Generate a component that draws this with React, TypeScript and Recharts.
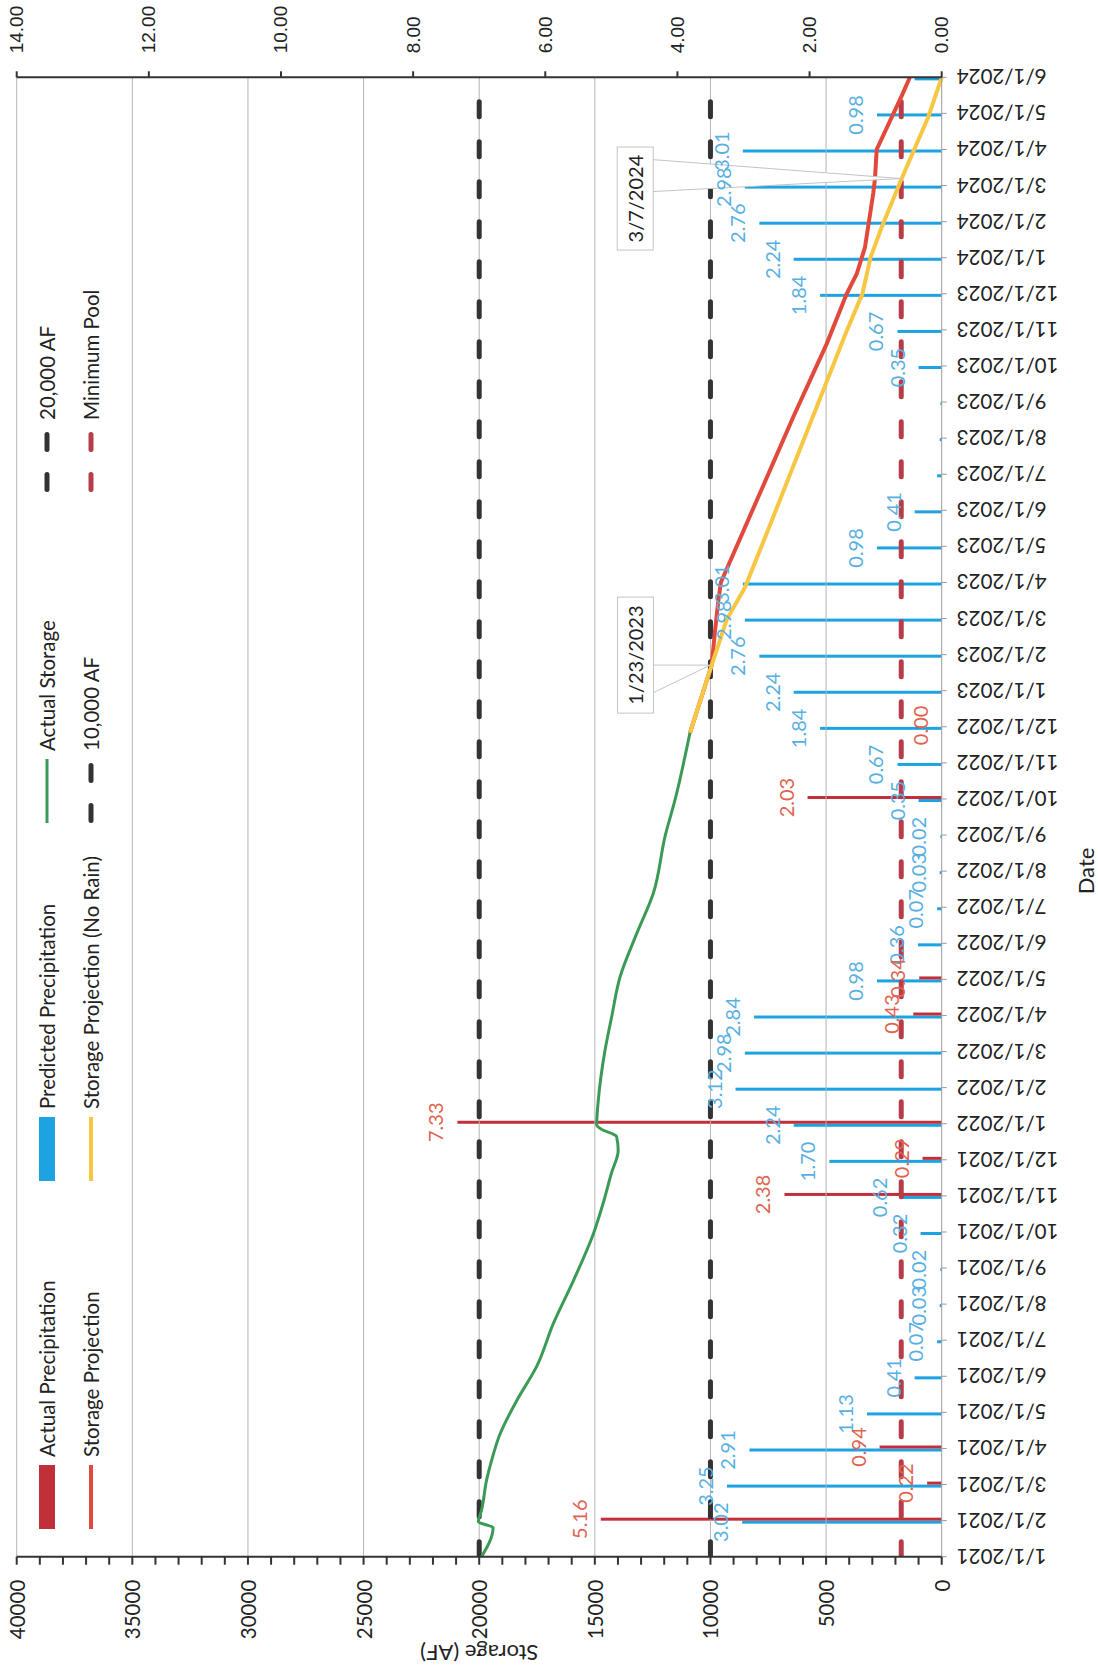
import React from 'react'
import { ComposedChart, Bar, Line, XAxis, YAxis, ReferenceLine, ReferenceDot, Legend, LabelList } from 'recharts'

// monthly categories (1st of each month)
const months = [
  '1/1/2021', '2/1/2021', '3/1/2021', '4/1/2021', '5/1/2021', '6/1/2021',
  '7/1/2021', '8/1/2021', '9/1/2021', '10/1/2021', '11/1/2021', '12/1/2021',
  '1/1/2022', '2/1/2022', '3/1/2022', '4/1/2022', '5/1/2022', '6/1/2022',
  '7/1/2022', '8/1/2022', '9/1/2022', '10/1/2022', '11/1/2022', '12/1/2022',
  '1/1/2023', '2/1/2023', '3/1/2023', '4/1/2023', '5/1/2023', '6/1/2023',
  '7/1/2023', '8/1/2023', '9/1/2023', '10/1/2023', '11/1/2023', '12/1/2023',
  '1/1/2024', '2/1/2024', '3/1/2024', '4/1/2024', '5/1/2024', '6/1/2024',
]

// precipitation (in)
const actualPrecip = [
  null, 5.16, 0.22, 0.94, null, null, null, null, null, null, 2.38, 0.29,
  7.33, null, null, 0.43, 0.34, null, null, null, null, 2.03, null, 0.0,
  null, null, null, null, null, null, null, null, null, null, null, null,
  null, null, null, null, null, null,
]
const predictedPrecip = [
  null, 3.02, 3.25, 2.91, 1.13, 0.41, 0.07, 0.03, 0.02, 0.32, 0.62, 1.7,
  2.24, 3.12, 2.98, 2.84, 0.98, 0.36, 0.07, 0.03, 0.02, 0.35, 0.67, 1.84,
  2.24, 2.76, 2.98, 3.01, 0.98, 0.41, 0.07, 0.03, 0.02, 0.35, 0.67, 1.84,
  2.24, 2.76, 2.98, 3.01, 0.98, 0.41,
]
// months whose predicted label is not shown in the original
const unlabelledPredicted = [30, 31, 32, 41]

// storage (AF)
const actualStorage: [string, number][] = [
  ['1/1/2021', 19900], ['1/26/2021', 19400], ['1/31/2021', 20040], ['2/9/2021', 19900],
  ['3/5/2021', 19680], ['3/22/2021', 19460], ['4/13/2021', 19100], ['5/11/2021', 18380],
  ['6/9/2021', 17520], ['7/15/2021', 16800], ['8/21/2021', 15930], ['9/29/2021', 15070],
  ['10/25/2021', 14650], ['11/20/2021', 14280], ['12/9/2021', 13990],
  ['12/21/2021', 14060], ['12/23/2021', 14200], ['12/27/2021', 14700], ['12/31/2021', 14920],
  ['1/21/2022', 14850], ['3/2/2022', 14560], ['3/31/2022', 14270], ['5/3/2022', 13910],
  ['6/9/2022', 13190], ['7/13/2022', 12470], ['9/1/2022', 11950], ['9/30/2022', 11535],
  ['11/26/2022', 10886],
]
const storageProjection: [string, number][] = [
  ['11/26/2022', 10886], ['1/23/2023', 9945], ['2/19/2023', 9805], ['3/16/2023', 9660],
  ['4/1/2023', 9550], ['8/20/2023', 6400], ['10/20/2023', 4974], ['12/1/2023', 4109],
  ['12/18/2023', 3676], ['1/10/2024', 3317], ['2/24/2024', 2958], ['3/7/2024', 2885],
  ['4/1/2024', 2811], ['5/16/2024', 1730], ['6/1/2024', 1375],
]
const noRainProjection: [string, number][] = [
  ['11/26/2022', 10886], ['1/23/2023', 9945], ['2/28/2023', 9300], ['3/28/2023', 8500],
  ['5/12/2023', 7570], ['9/2/2023', 5300], ['10/31/2023', 4110], ['12/1/2023', 3430],
  ['1/1/2024', 3080], ['1/27/2024', 2600], ['3/7/2024', 1730], ['4/28/2024', 580],
  ['6/1/2024', 0],
]

const level20k = 20000
const level10k = 10000
const minimumPool = 1750

const storageTicks = Array.from({ length: 41 }, (_, i) => i * 1000)
const storageGrid = [5000, 10000, 15000, 20000, 25000, 30000, 35000, 40000]
const precipTicks = [0, 2, 4, 6, 8, 10, 12, 14]
const monthTicks = months.map((_, i) => i)

const W = 1677
const H = 1098
const BAR_W = 3
const FONT = 'Lato, "Open Sans", sans-serif'

const GREEN = '#3b9b56'
const PROJ_RED = '#e0493b'
const PROJ_YELLOW = '#f7c744'
const BAR_BLUE = '#1ea3e2'
const BAR_RED = '#c1303a'
const LABEL_BLUE = '#58b0e2'
const LABEL_RED = '#e0634f'
const POOL_RED = '#b63c47'
const LEVEL_BLACK = '#333333'
const GRID = '#b4b4b4'

// date string -> month index (fractional inside the month)
const toX = (d: string) => {
  const [m, day, y] = d.split('/').map(Number)
  const dim = new Date(y, m, 0).getDate()
  return (y - 2021) * 12 + (m - 1) + (day - 1) / dim
}

const monthRows = months.map((_, i) => ({
  x: i,
  actual: actualPrecip[i],
  predicted: predictedPrecip[i],
  predictedLabel: unlabelledPredicted.includes(i) ? null : predictedPrecip[i],
}))
const toPoints = (arr: [string, number][]) => arr.map(([d, v]) => ({ x: toX(d), v }))
const flat = (v: number) => [{ x: 0, v }, { x: months.length - 1, v }]

// the line data crowd the number axis, so the bars get a fixed width here
const barShape = (color: string, side: 'left' | 'right') => (p: any) => {
  if (p.x == null || p.y == null) return <g />
  const bx = side === 'left' ? p.x + p.width - BAR_W : p.x
  return <rect x={bx} y={p.y} width={BAR_W} height={Math.max(Number(p.height) || 0, 0)} fill={color} />
}

const barLabel = (color: string, side: 'left' | 'right') => (props: any) => {
  const { x, y, width, value } = props
  if (value == null || x == null) return null
  const cx = side === 'left' ? Number(x) + Number(width) - BAR_W / 2 : Number(x) + BAR_W / 2
  return (
    <text x={cx} y={Number(y) - 14} textAnchor="middle" fill={color} fontSize={20} fontFamily={FONT}>
      {Number(value).toFixed(2)}
    </text>
  )
}

const DateTick = ({ x, y, payload }: any) => (
  <text x={x} y={y} transform={`rotate(-90, ${x}, ${y})`} textAnchor="end"
    dominantBaseline="central" fontSize={20.5} fontFamily={FONT} fill="#222">
    {months[payload.value]}
  </text>
)

const StorageTick = ({ x, y, payload }: any) =>
  payload.value % 5000 !== 0 ? null : (
    <text x={x} y={y} textAnchor="end" dominantBaseline="central" fontSize={20.5} fontFamily={FONT} fill="#222">
      {payload.value}
    </text>
  )

const PrecipTick = ({ x, y, payload }: any) => (
  <text x={x} y={y} textAnchor="start" dominantBaseline="central" fontSize={19}
    fontFamily='"Liberation Sans", Arial, sans-serif' fill="#222">
    {Number(payload.value).toFixed(2)}
  </text>
)

const Callout = ({ cx, cy, text, dx, dy, w, a, b }: any) => {
  const bx = cx + dx
  const by = cy + dy
  return (
    <g>
      <polygon points={`${cx + a},${by + 17} ${cx},${cy} ${cx + b},${by + 17}`} fill="#fff" stroke="#c4c4c4" />
      <rect x={bx - w / 2} y={by - 18} width={w} height={36} fill="#fff" stroke="#c4c4c4" />
      <text x={bx} y={by} textAnchor="middle" dominantBaseline="central" fontSize={20} fontFamily={FONT} fill="#222">
        {text}
      </text>
    </g>
  )
}

const legendCols = [148, 496, 854, 1185]
const legendRows = [47, 91]
const legendEntries = [
  { name: 'Actual Precipitation', kind: 'bar', color: BAR_RED },
  { name: 'Predicted Precipitation', kind: 'bar', color: BAR_BLUE },
  { name: 'Actual Storage', kind: 'line', color: GREEN },
  { name: '20,000 AF', kind: 'dash', color: LEVEL_BLACK },
  { name: 'Storage Projection', kind: 'line', color: PROJ_RED },
  { name: 'Storage Projection (No Rain)', kind: 'line', color: PROJ_YELLOW },
  { name: '10,000 AF', kind: 'dash', color: LEVEL_BLACK },
  { name: 'Minimum Pool', kind: 'dash', color: POOL_RED },
]

const ChartLegend = () => (
  <div style={{ position: 'relative', width: W, height: 120 }}>
    {legendEntries.map((e, i) => (
      <div key={e.name} style={{
        position: 'absolute', left: legendCols[i % 4], top: legendRows[Math.floor(i / 4)] - 14,
        height: 28, display: 'flex', alignItems: 'center', whiteSpace: 'nowrap',
      }}>
        <svg width={64} height={20}>
          {e.kind === 'bar' && <rect x={0} y={2} width={64} height={16} fill={e.color} />}
          {e.kind === 'line' && <line x1={0} x2={64} y1={10} y2={10} stroke={e.color} strokeWidth={e.color === GREEN ? 3 : 4} />}
          {e.kind === 'dash' && (
            <line x1={2.5} x2={62} y1={10} y2={10} stroke={e.color} strokeWidth={5}
              strokeDasharray="15 25" strokeLinecap="round" />
          )}
        </svg>
        <span style={{ marginLeft: 8, fontFamily: FONT, fontSize: 20.5, color: '#222' }}>{e.name}</span>
      </div>
    ))}
  </div>
)

export default function App() {
  return (
    <div style={{ position: 'absolute', left: 0, top: 0, width: 1098, height: 1677, overflow: 'hidden', background: '#fff' }}>
      <div style={{
        position: 'absolute', left: 0, top: 0, width: W, height: H,
        transformOrigin: '0 0', transform: `translateY(${W}px) rotate(-90deg)`,
      }}>
        <ComposedChart width={W} height={H} data={monthRows} barGap={0}
          margin={{ top: 16.7, right: 0, bottom: 0, left: 0 }}>
          <XAxis xAxisId="d" dataKey="x" type="number" domain={[0, months.length - 1]} ticks={monthTicks}
            interval={0} height={156.3} tick={<DateTick />} tickSize={5} tickMargin={10}
            stroke="#9a9a9a" allowDataOverflow
            label={{ value: 'Date', position: 'insideBottom', offset: 4, dx: -54, fontSize: 22, fontFamily: FONT, fill: '#222' }} />
          <YAxis yAxisId="s" orientation="left" width={120.3} domain={[0, 40000]} ticks={storageTicks}
            interval={0} tick={<StorageTick />} tickSize={8} tickMargin={15} stroke="#333" strokeWidth={2}
            label={{ value: 'Storage (AF)', angle: -90, position: 'insideLeft', offset: 24, fontSize: 22, fontFamily: FONT, fill: '#222', style: { textAnchor: 'middle' } }} />
          <YAxis yAxisId="p" orientation="right" width={77.3} domain={[0, 14]} ticks={precipTicks}
            interval={0} tick={<PrecipTick />} tickSize={6} tickMargin={18} stroke="#333" strokeWidth={2} />

          {storageGrid.map((v) => (
            <ReferenceLine key={v} xAxisId="d" yAxisId="s" y={v} stroke={GRID} strokeWidth={1} />
          ))}

          <Bar xAxisId="d" yAxisId="p" dataKey="predicted" fill={BAR_BLUE} barSize={BAR_W}
            shape={barShape(BAR_BLUE, 'left')} isAnimationActive={false}>
            <LabelList dataKey="predictedLabel" content={barLabel(LABEL_BLUE, 'left')} />
          </Bar>
          <Bar xAxisId="d" yAxisId="p" dataKey="actual" fill={BAR_RED} barSize={BAR_W}
            shape={barShape(BAR_RED, 'right')} isAnimationActive={false}>
            <LabelList dataKey="actual" content={barLabel(LABEL_RED, 'right')} />
          </Bar>

          <Line xAxisId="d" yAxisId="s" data={flat(level20k)} dataKey="v" stroke={LEVEL_BLACK} strokeWidth={5}
            strokeDasharray="15 25" strokeLinecap="round" dot={false} isAnimationActive={false} />
          <Line xAxisId="d" yAxisId="s" data={flat(level10k)} dataKey="v" stroke={LEVEL_BLACK} strokeWidth={5}
            strokeDasharray="15 25" strokeLinecap="round" dot={false} isAnimationActive={false} />
          <Line xAxisId="d" yAxisId="s" data={flat(minimumPool)} dataKey="v" stroke={POOL_RED} strokeWidth={5}
            strokeDasharray="15 25" strokeLinecap="round" dot={false} isAnimationActive={false} />

          <Line xAxisId="d" yAxisId="s" data={toPoints(storageProjection)} dataKey="v" type="linear"
            stroke={PROJ_RED} strokeWidth={4} dot={false} isAnimationActive={false} />
          <Line xAxisId="d" yAxisId="s" data={toPoints(noRainProjection)} dataKey="v" type="linear"
            stroke={PROJ_YELLOW} strokeWidth={4} dot={false} isAnimationActive={false} />
          <Line xAxisId="d" yAxisId="s" data={toPoints(actualStorage)} dataKey="v" type="monotone"
            stroke={GREEN} strokeWidth={3} dot={false} isAnimationActive={false} />

          <ReferenceDot xAxisId="d" yAxisId="s" x={toX('1/23/2023')} y={level10k} r={1}
            shape={(p: any) => <Callout cx={p.cx} cy={p.cy} text="1/23/2023" dx={10} dy={-75} w={116} a={-28} b={0} />} />
          <ReferenceDot xAxisId="d" yAxisId="s" x={toX('3/7/2024')} y={minimumPool} r={1}
            shape={(p: any) => <Callout cx={p.cx} cy={p.cy} text="3/7/2024" dx={-20} dy={-266} w={103} a={-13} b={19} />} />

          <Legend layout="horizontal" verticalAlign="middle" align="center" content={<ChartLegend />}
            wrapperStyle={{ left: 0, top: 0, width: W, height: 120 }} />
        </ComposedChart>
      </div>
    </div>
  )
}
